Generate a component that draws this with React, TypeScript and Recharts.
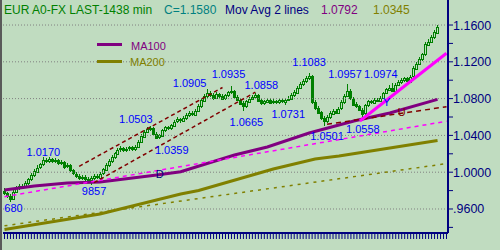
import React from "react"
import {
  ComposedChart,
  Bar,
  Line,
  XAxis,
  YAxis,
  ReferenceLine,
  ReferenceDot,
} from "recharts"

const BG = "#c0dcc0"
const GREEN = "#008000"
const NAVY = "#000080"
const BLUE = "#0000ff"
const PURPLE = "#800080"
const OLIVE = "#808000"
const DARKRED = "#800000"
const MAGENTA = "#ff00ff"
const FONT = "'Liberation Sans', Arial, sans-serif"

// daily bars, EUR A0-FX
const opens = [
  0.98, 0.9775, 0.974, 0.9712, 0.979, 0.983, 0.9852, 0.9845, 0.988, 0.9925,
  0.9968, 1.001, 1.005, 1.0085, 1.013, 1.012, 1.014, 1.0115, 1.013, 1.0095,
  1.011, 1.006, 1.0075, 1.002, 0.9985, 0.996, 0.9935, 0.995, 0.9925, 0.9915,
  0.994, 0.996, 0.9945, 0.9985, 1.003, 1.008, 1.012, 1.016, 1.0205, 1.0245,
  1.026, 1.024, 1.0255, 1.027, 1.025, 1.0275, 1.033, 1.039, 1.044, 1.047,
  1.0485, 1.042, 1.038, 1.04, 1.046, 1.049, 1.0475, 1.051, 1.055, 1.0575,
  1.056, 1.059, 1.062, 1.0645, 1.063, 1.067, 1.072, 1.078, 1.083, 1.086,
  1.084, 1.081, 1.085, 1.083, 1.08, 1.0835, 1.087, 1.088, 1.082, 1.079,
  1.075, 1.072, 1.077, 1.08, 1.082, 1.084, 1.078, 1.075, 1.077, 1.079,
  1.076, 1.0775, 1.076, 1.078, 1.0765, 1.079, 1.08, 1.084, 1.087, 1.092,
  1.096, 1.099, 1.102, 1.1045, 1.076, 1.07, 1.065, 1.059, 1.056, 1.06,
  1.064, 1.067, 1.065, 1.069, 1.076, 1.083, 1.088, 1.08, 1.074, 1.072,
  1.068, 1.064, 1.073, 1.077, 1.076, 1.079, 1.078, 1.081, 1.086, 1.09,
  1.092, 1.089, 1.095, 1.098, 1.1, 1.102, 1.099, 1.104, 1.113, 1.118,
  1.123, 1.128, 1.139, 1.142, 1.147, 1.152,
]
const highs = [
  0.9825, 0.979, 0.976, 0.9815, 0.985, 0.9875, 0.987, 0.99, 0.994, 0.999,
  1.003, 1.0075, 1.0105, 1.017, 1.015, 1.016, 1.0155, 1.015, 1.0145, 1.0135,
  1.0125, 1.01, 1.0085, 1.004, 1.0, 0.9975, 0.997, 0.9965, 0.9945, 0.996,
  0.9985, 0.998, 1.0, 1.005, 1.01, 1.014, 1.0185, 1.0225, 1.0265, 1.0285,
  1.0275, 1.027, 1.029, 1.0285, 1.0295, 1.035, 1.041, 1.046, 1.049, 1.0503,
  1.0495, 1.0435, 1.042, 1.0475, 1.0505, 1.05, 1.0525, 1.0565, 1.0595, 1.059,
  1.061, 1.064, 1.0665, 1.066, 1.069, 1.074, 1.08, 1.085, 1.0905, 1.088,
  1.086, 1.087, 1.0865, 1.0845, 1.085, 1.0885, 1.0935, 1.0895, 1.0835, 1.0805,
  1.077, 1.0785, 1.0815, 1.084, 1.0858, 1.085, 1.0795, 1.079, 1.081, 1.0805,
  1.0795, 1.079, 1.08, 1.0795, 1.0805, 1.0825, 1.086, 1.089, 1.094, 1.098,
  1.101, 1.1045, 1.1083, 1.106, 1.079, 1.072, 1.067, 1.061, 1.0625, 1.066,
  1.069, 1.0685, 1.071, 1.078, 1.085, 1.0957, 1.09, 1.0815, 1.076, 1.0735,
  1.0695, 1.0745, 1.079, 1.0785, 1.081, 1.0805, 1.083, 1.0875, 1.092, 1.0945,
  1.0974, 1.0965, 1.1, 1.102, 1.104, 1.1035, 1.106, 1.115, 1.12, 1.125,
  1.13, 1.141, 1.1445, 1.149, 1.1545, 1.16,
]
const lows = [
  0.9755, 0.9715, 0.968, 0.97, 0.977, 0.981, 0.9825, 0.983, 0.9865, 0.9905,
  0.995, 0.999, 1.0035, 1.007, 1.01, 1.01, 1.0095, 1.0095, 1.008, 1.0075,
  1.004, 1.0045, 1.0, 0.9965, 0.994, 0.9915, 0.9915, 0.9905, 0.989, 0.9857,
  0.992, 0.9925, 0.993, 0.997, 1.001, 1.006, 1.01, 1.0145, 1.019, 1.0225,
  1.022, 1.0225, 1.0235, 1.023, 1.0235, 1.026, 1.0315, 1.037, 1.0425, 1.045,
  1.04, 1.0365, 1.0359, 1.0385, 1.044, 1.0455, 1.046, 1.0495, 1.053, 1.054,
  1.0545, 1.057, 1.06, 1.061, 1.0615, 1.065, 1.07, 1.076, 1.081, 1.082,
  1.079, 1.0795, 1.081, 1.078, 1.0785, 1.0815, 1.085, 1.08, 1.077, 1.073,
  1.0665, 1.07, 1.075, 1.0785, 1.0805, 1.076, 1.0735, 1.0735, 1.0755, 1.0745,
  1.0745, 1.0745, 1.0745, 1.075, 1.0731, 1.077, 1.0785, 1.082, 1.0855, 1.09,
  1.094, 1.097, 1.1, 1.074, 1.068, 1.063, 1.057, 1.0501, 1.054, 1.058,
  1.062, 1.063, 1.0635, 1.0675, 1.0745, 1.0815, 1.078, 1.072, 1.07, 1.066,
  1.0558, 1.062, 1.071, 1.0745, 1.0745, 1.0765, 1.0765, 1.0795, 1.0845, 1.0885,
  1.087, 1.087, 1.0935, 1.096, 1.0985, 1.097, 1.0975, 1.102, 1.111, 1.116,
  1.121, 1.126, 1.137, 1.14, 1.145, 1.15,
]
const closes = [
  0.9775, 0.974, 0.9712, 0.979, 0.983, 0.9852, 0.9845, 0.988, 0.9925, 0.9968,
  1.001, 1.005, 1.0085, 1.013, 1.012, 1.014, 1.0115, 1.013, 1.0095, 1.011,
  1.006, 1.0075, 1.002, 0.9985, 0.996, 0.9935, 0.995, 0.9925, 0.9915, 0.994,
  0.996, 0.9945, 0.9985, 1.003, 1.008, 1.012, 1.016, 1.0205, 1.0245, 1.026,
  1.024, 1.0255, 1.027, 1.025, 1.0275, 1.033, 1.039, 1.044, 1.047, 1.0485,
  1.042, 1.038, 1.04, 1.046, 1.049, 1.0475, 1.051, 1.055, 1.0575, 1.056,
  1.059, 1.062, 1.0645, 1.063, 1.067, 1.072, 1.078, 1.083, 1.086, 1.084,
  1.081, 1.085, 1.083, 1.08, 1.0835, 1.087, 1.088, 1.082, 1.079, 1.075,
  1.072, 1.077, 1.08, 1.082, 1.084, 1.078, 1.075, 1.077, 1.079, 1.076,
  1.0775, 1.076, 1.078, 1.0765, 1.079, 1.08, 1.084, 1.087, 1.092, 1.096,
  1.099, 1.102, 1.1045, 1.076, 1.07, 1.065, 1.059, 1.056, 1.06, 1.064,
  1.067, 1.065, 1.069, 1.076, 1.083, 1.088, 1.08, 1.074, 1.072, 1.068,
  1.064, 1.073, 1.077, 1.076, 1.079, 1.078, 1.081, 1.086, 1.09, 1.092,
  1.089, 1.095, 1.098, 1.1, 1.102, 1.099, 1.104, 1.113, 1.118, 1.123,
  1.128, 1.139, 1.142, 1.147, 1.152, 1.158,
]

// moving averages, sampled at bar indexes
const ma100Pts = [
  [0, 0.9807], [10, 0.985], [21, 0.9883], [32, 0.9893], [51, 0.997],
  [59, 1.0005], [77, 1.0187], [88, 1.0274], [102, 1.0426], [117, 1.0557],
  [129, 1.0643], [145, 1.0792],
]
const ma200Pts = [
  [0, 0.9377], [32, 0.9546], [59, 0.9763], [65, 0.9801], [90, 1.0035],
  [104, 1.0143], [112, 1.0176], [145, 1.0345],
]

// drawn trend lines (start / end)
const channelTop = [[25, 1.0064], [73, 1.0921]]
const channelBottom = [[30, 0.9886], [84, 1.087]]
const longTrend = [[0, 0.9734], [148, 1.0554]]
const baseTrend = [[0, 0.9417], [148, 1.0093]]
const supportTrend = [[119, 1.0557], [148, 1.1293]]
const lowerTrend = [[108, 1.0521], [148, 1.0712]]

// price annotations: text, bar index, price
const peakLabels = [
  ["680", 3, 0.9611],
  ["1.0170", 13, 1.022],
  ["9857", 30, 0.9796],
  ["1.0503", 44, 1.0578],
  ["1.0359", 56, 1.0241],
  ["1.0905", 62, 1.097],
  ["1.0935", 75, 1.1067],
  ["1.0665", 81, 1.0546],
  ["1.0858", 86, 1.0948],
  ["1.0731", 95, 1.0633],
  ["1.1083", 102, 1.1198],
  ["1.0501", 108, 1.0393],
  ["1.0957", 114, 1.1067],
  ["1.0558", 120, 1.047],
  ["1.0974", 126, 1.1067],
  ["Y", 128, 1.0763],
]
const markLabels = [
  ["D", 52, 0.998, NAVY],
  ["U", 133, 1.0654, DARKRED],
]

const yTicks = [0.94, 0.96, 0.98, 1.0, 1.02, 1.04, 1.06, 1.08, 1.1, 1.12, 1.14, 1.16]
const yLabelled = [0.96, 1.0, 1.04, 1.08, 1.12, 1.16]

const lineSeries = [
  { key: "ma200", pts: ma200Pts, color: OLIVE, width: 3, dash: undefined },
  { key: "ma100", pts: ma100Pts, color: PURPLE, width: 3, dash: undefined },
  { key: "baseTrend", pts: baseTrend, color: OLIVE, width: 1.5, dash: "3 5" },
  { key: "longTrend", pts: longTrend, color: MAGENTA, width: 1.5, dash: "4 4" },
  { key: "channelTop", pts: channelTop, color: DARKRED, width: 1.5, dash: "4 3" },
  { key: "channelBottom", pts: channelBottom, color: DARKRED, width: 1.5, dash: "4 3" },
  { key: "lowerTrend", pts: lowerTrend, color: DARKRED, width: 1.5, dash: "5 4" },
  { key: "supportTrend", pts: supportTrend, color: MAGENTA, width: 3, dash: undefined },
]

// 3 empty slots on the right so the trend lines reach the price axis
const data = Array.from({ length: closes.length + 3 }, (_, i) => {
  const row: any = {
    idx: i,
    open: opens[i] ?? null,
    high: highs[i] ?? null,
    low: lows[i] ?? null,
    close: closes[i] ?? null,
  }
  lineSeries.forEach((s) => {
    const p = s.pts.find((q) => q[0] === i)
    row[s.key] = p ? p[1] : null
  })
  return row
})

function Candle(props: any) {
  const { x, y, width, height, payload } = props
  if (payload.high == null || !height) return null
  const top = Math.min(y, y + height)
  const bottom = Math.max(y, y + height)
  const k = (bottom - top) / (payload.high - payload.low)
  const py = (v: number) => top + (payload.high - v) * k
  const cx = Math.round(x + width / 2 - 0.5) + 0.5
  const yo = py(payload.open)
  const yc = py(payload.close)
  const bodyTop = Math.round(Math.min(yo, yc)) + 0.5
  const bodyH = Math.max(1, Math.round(Math.abs(yc - yo)))
  const up = payload.close >= payload.open
  return (
    <g>
      <line x1={cx} x2={cx} y1={Math.round(top)} y2={Math.round(bottom)} stroke={GREEN} />
      <rect
        x={cx - 1}
        y={bodyTop}
        width={2}
        height={bodyH}
        fill={up ? BG : GREEN}
        stroke={GREEN}
      />
    </g>
  )
}

const priceTick = (p: any) => {
  const v = p.payload.value
  if (!yLabelled.some((t) => Math.abs(t - v) < 1e-6)) return <g />
  const txt = v.toFixed(4).replace(/^0/, "")
  return (
    <text x={p.x} y={p.y} dy={4.5} fill={NAVY} fontSize={12.5} textAnchor="start">
      {txt}
    </text>
  )
}

export default function App() {
  return (
    <div
      style={{
        position: "relative",
        width: 500,
        height: 250,
        background: BG,
        overflow: "hidden",
        fontFamily: FONT,
      }}
    >
      <style>{"body{margin:0}"}</style>
      <ComposedChart
        width={500}
        height={250}
        data={data}
        margin={{ top: 0, right: 0, bottom: 0, left: 3 }}
        barCategoryGap={0}
      >
        <XAxis
          dataKey="idx"
          type="category"
          height={17}
          interval={0}
          tickSize={6}
          axisLine={{ stroke: NAVY, strokeWidth: 2 }}
          tickLine={{ stroke: NAVY }}
          tick={() => null}
        />
        <YAxis
          orientation="right"
          type="number"
          width={52}
          domain={[0.9339, 1.1872]}
          allowDataOverflow
          ticks={yTicks}
          interval={0}
          tickSize={5}
          tickMargin={0}
          axisLine={{ stroke: NAVY, strokeWidth: 2 }}
          tickLine={{ stroke: NAVY }}
          tick={priceTick}
        />
        {yLabelled.map((v) => (
          <ReferenceLine key={v} y={v} stroke="#808080" strokeDasharray="1 2" />
        ))}
        <Bar
          dataKey={(d: any) => (d.high == null ? null : [d.low, d.high])}
          shape={Candle}
          isAnimationActive={false}
        />
        {lineSeries.map((s) => (
          <Line
            key={s.key}
            dataKey={s.key}
            type="linear"
            stroke={s.color}
            strokeWidth={s.width}
            strokeDasharray={s.dash}
            connectNulls
            dot={false}
            activeDot={false}
            isAnimationActive={false}
          />
        ))}
        {peakLabels.map(([t, i, p]) => (
          <ReferenceDot
            key={"pk" + i}
            x={i as number}
            y={p as number}
            r={0}
            fill="none"
            stroke="none"
            label={{ value: t, position: "center", fill: BLUE, fontSize: 11 }}
          />
        ))}
        {markLabels.map(([t, i, p, c]) => (
          <ReferenceDot
            key={"mk" + i}
            x={i as number}
            y={p as number}
            r={0}
            fill="none"
            stroke="none"
            label={{ value: t, position: "center", fill: c, fontSize: 11 }}
          />
        ))}
      </ComposedChart>

      <svg
        width={500}
        height={250}
        style={{ position: "absolute", left: 0, top: 0, pointerEvents: "none" }}
      >
        <g fontSize={12}>
          <text x={4} y={14} fill={GREEN}>EUR A0-FX LAST-1438 min</text>
          <text x={164} y={14} fill="#008080">C=1.1580</text>
          <text x={225} y={14} fill={NAVY}>Mov Avg 2 lines</text>
          <text x={321} y={14} fill={PURPLE}>1.0792</text>
          <text x={373} y={14} fill={OLIVE}>1.0345</text>
        </g>
        <line x1={97} x2={122} y1={44.5} y2={44.5} stroke={PURPLE} strokeWidth={3} />
        <text x={131} y={50} fill={PURPLE} fontSize={11}>MA100</text>
        <line x1={97} x2={122} y1={61.5} y2={61.5} stroke={OLIVE} strokeWidth={3} />
        <text x={130} y={66} fill={OLIVE} fontSize={11}>MA200</text>
        <rect x={0} y={0} width={2} height={250} fill="#5a5a5a" />
      </svg>
    </div>
  )
}
